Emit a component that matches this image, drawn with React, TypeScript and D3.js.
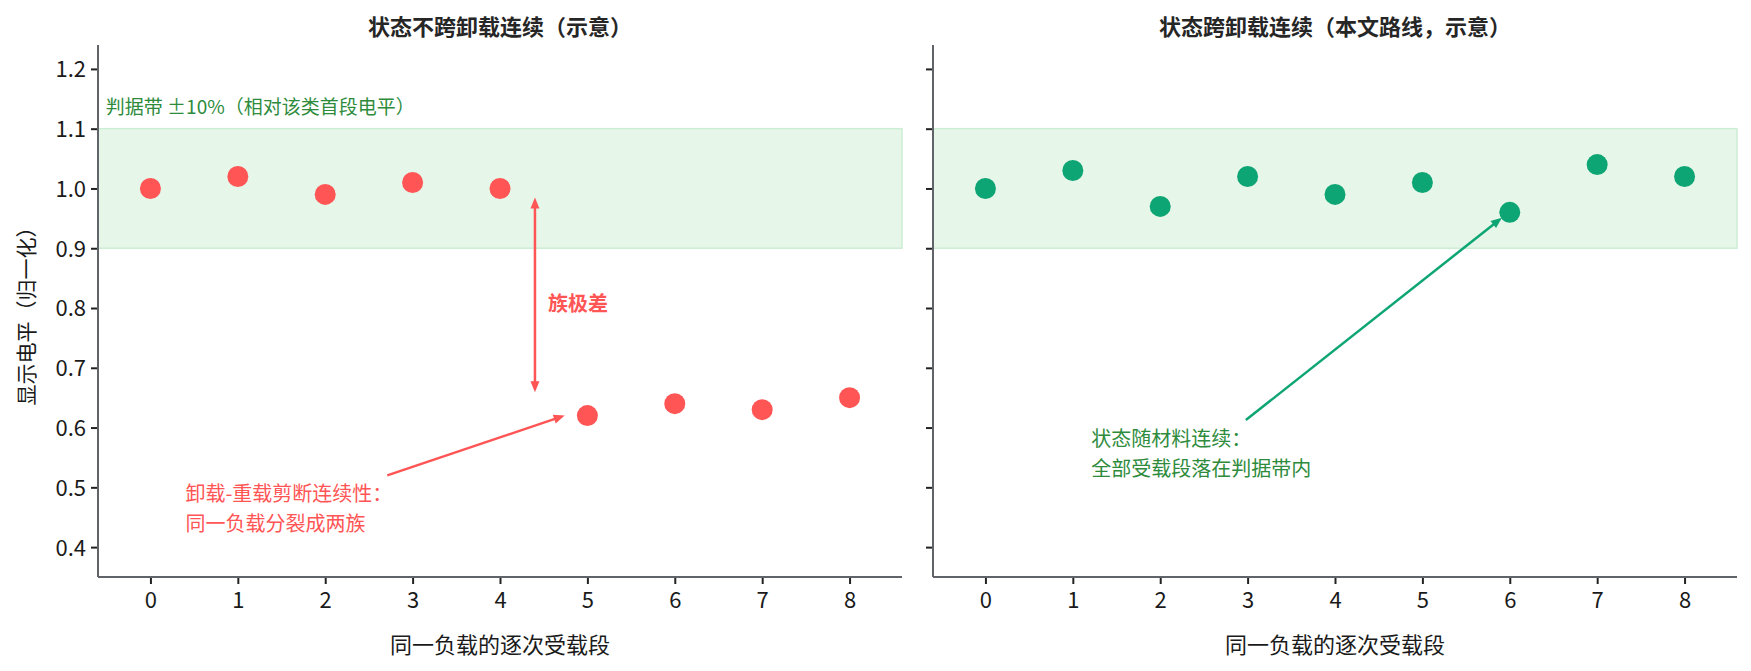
import React, { useRef, useEffect } from 'react';
import * as d3 from 'd3';

// load segments shown on the x axis
const segments = [0, 1, 2, 3, 4, 5, 6, 7, 8];
// normalised display level, left: state reset at unload, right: state carried across unload
const levelsBroken = [1.0, 1.02, 0.99, 1.01, 1.0, 0.62, 0.64, 0.63, 0.65];
const levelsContinuous = [1.0, 1.03, 0.97, 1.02, 0.99, 1.01, 0.96, 1.04, 1.02];
const yTicks = [0.4, 0.5, 0.6, 0.7, 0.8, 0.9, 1.0, 1.1, 1.2];
const bandRange = [0.9, 1.1];

const panelTitles = ['状态不跨卸载连续（示意）', '状态跨卸载连续（本文路线，示意）'];
const xLabel = '同一负载的逐次受载段';
const yLabel = '显示电平（归一化）';
const bandNote = '判据带 ±10%（相对该类首段电平）';
const brokenNote = ['卸载-重载剪断连续性：', '同一负载分裂成两族'];
const continuousNote = ['状态随材料连续：', '全部受载段落在判据带内'];
const gapNote = '族极差';

const colors = {
  red: '#ff5555',
  green: '#0ea574',
  noteGreen: '#2e8b3c',
  bandFill: '#e6f6e9',
  bandEdge: '#cdeed4',
  spine: '#606368',
  text: '#1a1a1a',
  title: '#262626',
};

const font = '"Noto Sans CJK SC", "Noto Sans", sans-serif';

export default function App() {
  const svgRef = useRef<SVGSVGElement>(null);
  const width = 1751;
  const height = 671;

  useEffect(() => {
    document.body.style.margin = '0';
    if (!svgRef.current) return;
    const svg = d3.select(svgRef.current);
    svg.selectAll('*').remove();

    const top = 45;
    const bottom = 577;
    const panels = [
      { x0: 98, x1: 902, values: levelsBroken, color: colors.red, showY: true },
      { x0: 933, x1: 1737, values: levelsContinuous, color: colors.green, showY: false },
    ];

    const y = d3.scaleLinear().domain([0.35, 1.24]).range([bottom, top]);

    const arrowHead = (g: any, x1: number, y1: number, x2: number, y2: number, color: string) => {
      const ang = Math.atan2(y2 - y1, x2 - x1);
      const len = 11;
      const half = 4.5;
      const bx = x2 - len * Math.cos(ang);
      const by = y2 - len * Math.sin(ang);
      const px = -Math.sin(ang) * half;
      const py = Math.cos(ang) * half;
      g.append('path')
        .attr('d', `M${x2},${y2}L${bx + px},${by + py}L${bx - px},${by - py}Z`)
        .attr('fill', color);
    };

    panels.forEach((p, i) => {
      const x = d3.scaleLinear().domain([-0.6, 8.6]).range([p.x0, p.x1]);
      const g = svg.append('g');

      // criterion band
      g.append('rect')
        .attr('x', x(-0.6))
        .attr('y', y(bandRange[1]))
        .attr('width', x(8.6) - x(-0.6))
        .attr('height', y(bandRange[0]) - y(bandRange[1]))
        .attr('fill', colors.bandFill)
        .attr('stroke', colors.bandEdge)
        .attr('stroke-width', 1.5);

      // axes
      const yAxis = g.append('g')
        .attr('transform', `translate(${p.x0},0)`)
        .call(d3.axisLeft(y).tickValues(yTicks).tickSize(7).tickFormat(p.showY ? d3.format('.1f') : () => ''));
      const xAxis = g.append('g')
        .attr('transform', `translate(0,${bottom})`)
        .call(d3.axisBottom(x).tickValues(segments).tickSize(7).tickFormat(d3.format('d')));

      [yAxis, xAxis].forEach(ax => {
        ax.select('.domain').remove();
        ax.selectAll('.tick line').attr('stroke', '#222').attr('stroke-width', 2);
        ax.selectAll('.tick text')
          .attr('font-family', font)
          .attr('font-size', 22)
          .attr('fill', colors.text);
      });
      g.append('line')
        .attr('x1', p.x0).attr('x2', p.x0)
        .attr('y1', top).attr('y2', bottom)
        .attr('stroke', colors.spine).attr('stroke-width', 2);
      g.append('line')
        .attr('x1', p.x0).attr('x2', p.x1)
        .attr('y1', bottom).attr('y2', bottom)
        .attr('stroke', colors.spine).attr('stroke-width', 2);
      yAxis.selectAll('.tick text').attr('x', -12).attr('dy', '0.36em');
      xAxis.selectAll('.tick text').attr('y', 13).attr('dy', '0.8em');

      // points
      g.selectAll('circle.pt')
        .data(p.values)
        .enter()
        .append('circle')
        .attr('class', 'pt')
        .attr('cx', (_, j) => x(segments[j]))
        .attr('cy', d => y(d))
        .attr('r', 10.5)
        .attr('fill', p.color);

      // title
      g.append('text')
        .attr('x', (p.x0 + p.x1) / 2)
        .attr('y', 25)
        .attr('dominant-baseline', 'central')
        .attr('text-anchor', 'middle')
        .attr('font-family', font)
        .attr('font-weight', 700)
        .attr('font-size', 22)
        .attr('fill', colors.title)
        .text(panelTitles[i]);

      // x label
      g.append('text')
        .attr('x', (p.x0 + p.x1) / 2)
        .attr('y', 643)
        .attr('dominant-baseline', 'central')
        .attr('text-anchor', 'middle')
        .attr('font-family', font)
        .attr('font-size', 22)
        .attr('fill', colors.text)
        .text(xLabel);

      if (i === 0) {
        g.append('text')
          .attr('transform', `translate(25,${(top + bottom) / 2}) rotate(-90)`)
          .attr('dominant-baseline', 'central')
          .attr('text-anchor', 'middle')
          .attr('font-family', font)
          .attr('font-size', 21)
          .attr('fill', colors.text)
          .text(yLabel);

        g.append('text')
          .attr('x', x(-0.51))
          .attr('y', y(1.139))
          .attr('dominant-baseline', 'central')
          .attr('font-family', font)
          .attr('font-size', 19)
          .attr('fill', colors.noteGreen)
          .text(bandNote);

        // family gap double arrow
        const ax = x(4.4);
        const ya = y(0.985);
        const yb = y(0.659);
        g.append('line')
          .attr('x1', ax).attr('x2', ax)
          .attr('y1', ya + 8).attr('y2', yb - 8)
          .attr('stroke', colors.red).attr('stroke-width', 2.5);
        arrowHead(g, ax, yb, ax, ya, colors.red);
        arrowHead(g, ax, ya, ax, yb, colors.red);
        g.append('text')
          .attr('x', x(4.55))
          .attr('y', y(0.81))
          .attr('dominant-baseline', 'central')
          .attr('font-family', font)
          .attr('font-weight', 700)
          .attr('font-size', 20)
          .attr('fill', colors.red)
          .text(gapNote);

        // split annotation
        const sx = x(2.71), sy = y(0.52), tx = x(4.74), ty = y(0.62);
        const ang = Math.atan2(ty - sy, tx - sx);
        g.append('line')
          .attr('x1', sx).attr('y1', sy)
          .attr('x2', tx - 8 * Math.cos(ang))
          .attr('y2', ty - 8 * Math.sin(ang))
          .attr('stroke', colors.red).attr('stroke-width', 2.5);
        arrowHead(g, sx, sy, tx, ty, colors.red);
        brokenNote.forEach((line, k) => {
          g.append('text')
            .attr('x', x(0.4))
            .attr('y', y(0.492) + k * 30.5)
            .attr('dominant-baseline', 'central')
            .attr('font-family', font)
            .attr('font-size', 20)
            .attr('fill', colors.red)
            .text(line);
        });
      } else {
        const sx = x(2.98), sy = y(0.6125), tx = x(5.91), ty = y(0.951);
        const ang = Math.atan2(ty - sy, tx - sx);
        g.append('line')
          .attr('x1', sx).attr('y1', sy)
          .attr('x2', tx - 8 * Math.cos(ang))
          .attr('y2', ty - 8 * Math.sin(ang))
          .attr('stroke', colors.green).attr('stroke-width', 2.5);
        arrowHead(g, sx, sy, tx, ty, colors.green);
        continuousNote.forEach((line, k) => {
          g.append('text')
            .attr('x', x(1.21))
            .attr('y', y(0.584) + k * 30)
            .attr('dominant-baseline', 'central')
            .attr('font-family', font)
            .attr('font-size', 20)
            .attr('fill', colors.noteGreen)
            .text(line);
        });
      }
    });
  }, []);

  return (
    <div style={{ width, height, background: '#fff' }}>
      <svg ref={svgRef} width={width} height={height} style={{ display: 'block' }} />
    </div>
  );
}
